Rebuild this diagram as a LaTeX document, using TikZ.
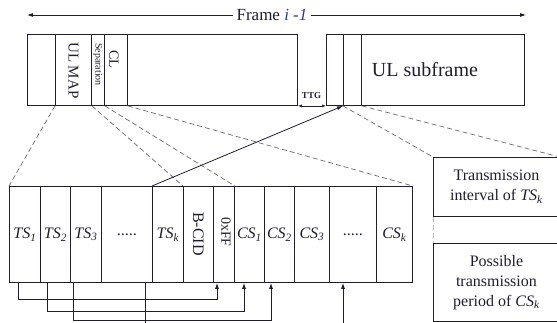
\documentclass[tikz,border=0pt]{standalone}
\usepackage{fontspec}
\setmainfont{Liberation Serif}
\usetikzlibrary{arrows.meta, positioning, calc}
\definecolor{mydark}{RGB}{30,30,45}
\definecolor{myblue}{RGB}{45,55,150}
\definecolor{mygray}{RGB}{105,105,105}
\definecolor{mylight}{RGB}{190,190,190}
\newcommand{\slotname}[2]{\textit{#1}\textsubscript{\textit{#2}}}
\tikzset{
  cell/.style={draw=mydark, line width=0.9pt, anchor=north west,
    inner sep=0pt, text=mydark, font=\fontsize{16}{18}\selectfont},
  topcell/.style={cell, minimum height=71pt},
  botcell/.style={cell, minimum height=96pt},
  infobox/.style={cell, minimum width=126pt, align=center,
    font=\fontsize{16}{20}\selectfont},
  vlabel/.style={rotate=-90, anchor=west, inner sep=0pt, text=mydark},
  zoomline/.style={dashed, dash pattern=on 5pt off 3pt, color=mygray, line width=0.7pt},
  arrow/.style={-{Latex[length=6pt,width=4pt]}, line width=0.8pt, color=mydark},
  link/.style={line width=0.8pt, color=mydark}
}

\begin{document}
\begin{tikzpicture}[x=1pt, y=-1pt]
  \useasboundingbox (0,0) rectangle (557,323);

  % --- Frame i-1 ---
  \node[text=mydark, font=\fontsize{17}{19}\selectfont] (frame) at (272,15)
    {Frame \textcolor{myblue}{\textit{i} -\textit{1}}};
  \coordinate (fleft) at (27,15);
  \coordinate (fright) at (526,15);
  \draw[arrow] (frame.west) -- (fleft);
  \draw[arrow] (frame.east) -- (fright);

  % --- DL part of frame ---
  \node[topcell, minimum width=28pt] (dl0) at (27,34) {};
  \node[topcell, minimum width=36pt] (ulmap) at (55,34) {};
  \node[topcell, minimum width=13pt] (sep) at (91,34) {};
  \node[topcell, minimum width=23pt] (cl) at (104,34) {};
  \node[topcell, minimum width=170pt] (dlrest) at (127,34) {};
  \node[vlabel, font=\fontsize{15}{17}\selectfont] at ($(ulmap.north)+(0,8)$) {UL MAP};
  \node[vlabel, font=\fontsize{10}{12}\selectfont] at ($(sep.north)+(0,9)$) {Separation};
  \node[vlabel, font=\fontsize{14}{16}\selectfont] at ($(cl.north)+(-2,16)$) {CL};

  % --- UL subframe ---
  \node[topcell, minimum width=17pt] (ul0) at (326,34) {};
  \node[topcell, minimum width=18pt] (ul1) at (343,34) {};
  \node[topcell, minimum width=163pt] (ulsub) at (361,34) {};
  \node[text=mydark, font=\fontsize{20}{22}\selectfont] at ($(ulsub.center)+(-18,0)$) {UL subframe};

  % TTG gap
  \node[text=mydark, font=\fontsize{9}{10}\selectfont\bfseries] (ttg) at (311.5,96) {TTG};
  \draw[{Latex[length=4pt,width=3pt]}-{Latex[length=4pt,width=3pt]}, line width=0.6pt, color=mydark]
    (dlrest.south east) -- (ul0.south west);

  % --- Slots ---
  \node[botcell, minimum width=31pt] (ts1) at (9,186) {\slotname{TS}{1}};
  \node[botcell, minimum width=30pt] (ts2) at (40,186) {\slotname{TS}{2}};
  \node[botcell, minimum width=31pt] (ts3) at (70,186) {\slotname{TS}{3}};
  \node[botcell, minimum width=51pt] (tsdots) at (101,186) {.....};
  \node[botcell, minimum width=31pt] (tsk) at (152,186) {\slotname{TS}{k}};
  \node[botcell, minimum width=30pt] (bcid) at (183,186) {};
  \node[botcell, minimum width=21pt] (oxff) at (213,186) {};
  \node[botcell, minimum width=30pt] (cs1) at (234,186) {\slotname{CS}{1}};
  \node[botcell, minimum width=30pt] (cs2) at (264,186) {\slotname{CS}{2}};
  \node[botcell, minimum width=35pt] (cs3) at (294,186) {\slotname{CS}{3}};
  \node[botcell, minimum width=47pt] (csdots) at (329,186) {.....};
  \node[botcell, minimum width=36pt] (csk) at (376,186) {\slotname{CS}{k}};
  \node[vlabel, font=\fontsize{16}{18}\selectfont] at ($(bcid.north)+(0,26)$) {B-CID};
  \node[vlabel, font=\fontsize{14}{16}\selectfont] at ($(oxff.north)+(2,31)$) {0xFF};

  % --- Right-hand notes ---
  \node[infobox, minimum height=59pt] (tint) at (433,157)
    {Transmission\\interval of \slotname{TS}{k}};
  \node[infobox, minimum height=78pt] (tper) at (433,243)
    {Possible\\transmission\\period of \slotname{CS}{k}};
  \draw[zoomline, color=mylight] (tint.south west) -- (tper.north west);

  % zoom lines
  \draw[zoomline] (ulmap.south west) -- (ts1.north west);
  \draw[zoomline] (ulmap.south east) -- (bcid.north west);
  \draw[zoomline] (sep.south east) -- (oxff.north east);
  \draw[zoomline] (cl.south east) -- (csk.north east);
  \draw[zoomline] (ul1.south west) -- (tint.north west);
  \draw[zoomline] (ul1.south east) -- (tint.north east);

  % TS_k points to UL subframe
  \draw[arrow] (tsk.north west) -- (ul1.south west);

  % --- Mapping TS -> CS ---
  \draw[arrow] ($(ts1.south west)+(9,0)$) -- ++(0,16) -| ($(oxff.south west)+(4,0)$);
  \draw[arrow] ($(ts2.south west)+(7,0)$) -- ++(0,28) -| ($(cs1.south west)+(10,0)$);
  \draw[arrow] ($(ts3.south west)+(3,0)$) -- ++(0,37) -| ($(cs2.south west)+(7,0)$);
  \draw[link] ($(tsdots.south west)+(44,0)$) -- ++(0,45);
  \coordinate (csin) at ($(csdots.south west)+(14,45)$);
  \draw[arrow] (csin) -- ($(csdots.south west)+(14,0)$);
\end{tikzpicture}
\end{document}
